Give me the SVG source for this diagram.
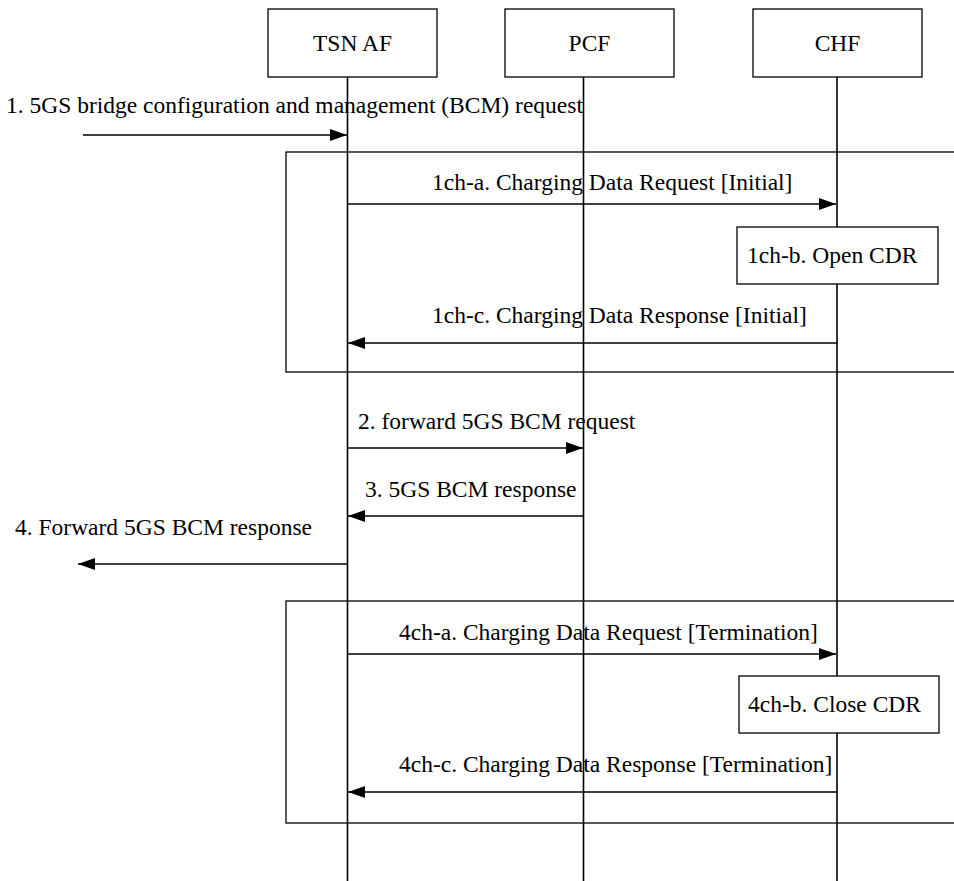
<svg xmlns="http://www.w3.org/2000/svg" width="954" height="881" viewBox="0 0 954 881">
  <style>
    .box { fill: #ffffff; stroke: #000000; stroke-width: 1.3; }
    .frame { fill: none; stroke: #000000; stroke-width: 1.3; }
    .life { stroke: #000000; stroke-width: 1.6; fill: none; }
    .msg { stroke: #000000; stroke-width: 1.4; fill: none; marker-end: url(#arrow); }
    text { font-family: "Liberation Serif", "Times New Roman", serif; font-size: 23.5px; fill: #000000; }
    .c { text-anchor: middle; }
  </style>
  <defs>
    <marker id="arrow" markerUnits="userSpaceOnUse" markerWidth="18" markerHeight="13" refX="17" refY="6" orient="auto">
      <path d="M0,0 L17,6 L0,12 z" fill="#000000"/>
    </marker>
  </defs>

  <rect width="954" height="881" fill="#ffffff"/>

  <!-- combined fragments (charging blocks) -->
  <g id="frame-initial">
    <rect class="frame" x="286" y="152" width="700" height="220"/>
  </g>
  <g id="frame-termination">
    <rect class="frame" x="286" y="601" width="700" height="222"/>
  </g>

  <!-- lifelines -->
  <g id="lifelines">
    <line class="life" x1="347.5" y1="77" x2="347.5" y2="881"/>
    <line class="life" x1="583.5" y1="77" x2="583.5" y2="881"/>
    <line class="life" x1="837" y1="77" x2="837" y2="881"/>
  </g>

  <!-- participants -->
  <g id="tsn-af">
    <rect class="box" x="268" y="9" width="169" height="68"/>
    <text class="c" x="352.5" y="51">TSN AF</text>
  </g>
  <g id="pcf">
    <rect class="box" x="505" y="9" width="169" height="68"/>
    <text class="c" x="589.5" y="51">PCF</text>
  </g>
  <g id="chf">
    <rect class="box" x="753" y="9" width="169" height="68"/>
    <text class="c" x="837.5" y="51">CHF</text>
  </g>

  <!-- CHF actions -->
  <g id="open-cdr">
    <rect class="box" x="737" y="227" width="201" height="57"/>
    <text x="747" y="263">1ch-b. Open CDR</text>
  </g>
  <g id="close-cdr">
    <rect class="box" x="739" y="676" width="200" height="57"/>
    <text x="748" y="712">4ch-b. Close CDR</text>
  </g>

  <!-- messages -->
  <g id="connectors">
    <line class="msg" x1="83" y1="135" x2="347" y2="135"/>
    <line class="msg" x1="348" y1="204" x2="836" y2="204"/>
    <line class="msg" x1="837" y1="343" x2="348" y2="343"/>
    <line class="msg" x1="348" y1="448" x2="583" y2="448"/>
    <line class="msg" x1="583" y1="516" x2="348" y2="516"/>
    <line class="msg" x1="347" y1="564" x2="78" y2="564"/>
    <line class="msg" x1="348" y1="654" x2="836" y2="654"/>
    <line class="msg" x1="837" y1="792" x2="348" y2="792"/>
  </g>

  <!-- message labels -->
  <g id="labels">
    <text x="6" y="113">1. 5GS bridge configuration and management (BCM) request</text>
    <text x="432" y="190">1ch-a. Charging Data Request [Initial]</text>
    <text x="432" y="323">1ch-c. Charging Data Response [Initial]</text>
    <text x="358" y="429">2. forward 5GS BCM request</text>
    <text x="365" y="497">3. 5GS BCM response</text>
    <text x="15" y="535">4. Forward 5GS BCM response</text>
    <text x="399" y="640">4ch-a. Charging Data Request [Termination]</text>
    <text x="399" y="772">4ch-c. Charging Data Response [Termination]</text>
  </g>
</svg>
